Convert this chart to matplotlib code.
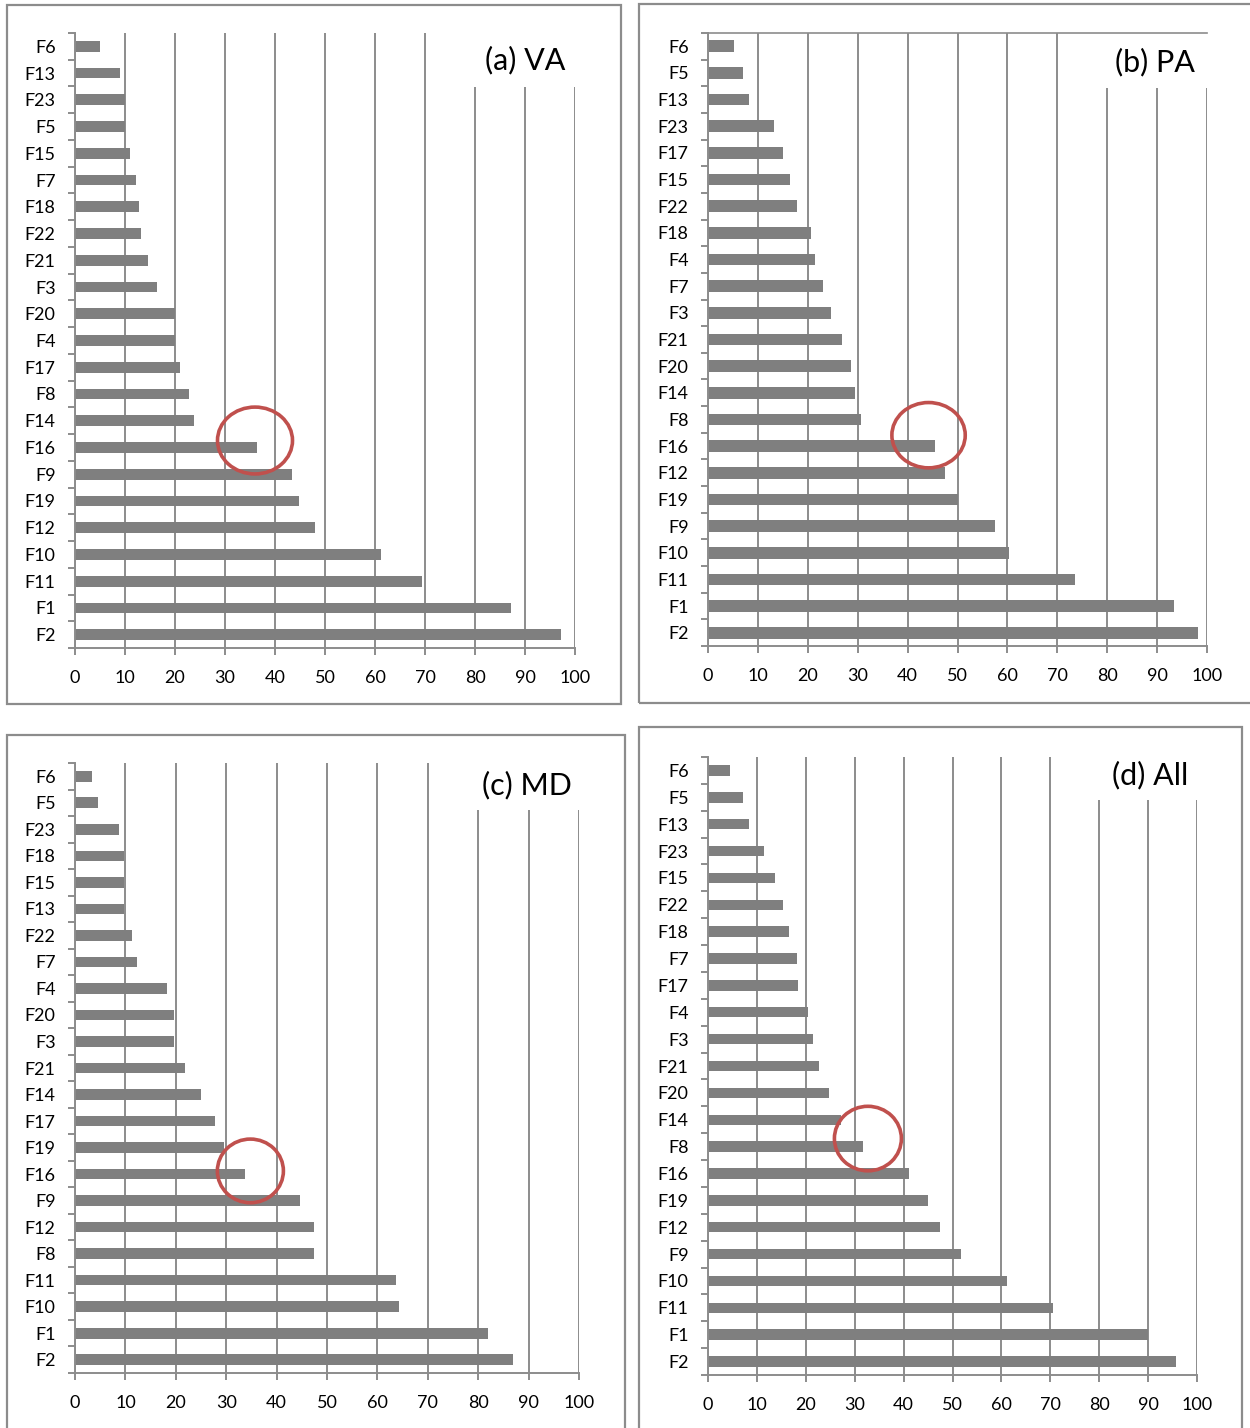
"""
Feature ranking bars for four panels (VA, PA, MD, All), with the
feature of interest circled in red.
"""

import numpy as np
import matplotlib.pyplot as plt
from matplotlib.patches import Ellipse, Rectangle

plt.rcParams['font.family'] = ['Lato', 'DejaVu Sans']

# top-to-bottom order as shown in each panel
va_labels = ["F6", "F13", "F23", "F5", "F15", "F7", "F18", "F22", "F21", "F3", "F20", "F4",
             "F17", "F8", "F14", "F16", "F9", "F19", "F12", "F10", "F11", "F1", "F2"]
va_values = [4.9, 8.9, 10.0, 10.0, 11.0, 12.1, 12.8, 13.2, 14.6, 16.4, 20.0, 20.0,
             21.0, 22.8, 23.8, 36.3, 43.3, 44.8, 48.0, 61.2, 69.4, 87.2, 97.1]

pa_labels = ["F6", "F5", "F13", "F23", "F17", "F15", "F22", "F18", "F4", "F7", "F3", "F21",
             "F20", "F14", "F8", "F16", "F12", "F19", "F9", "F10", "F11", "F1", "F2"]
pa_values = [5.2, 7.1, 8.2, 13.2, 15.0, 16.4, 17.8, 20.7, 21.5, 23.0, 24.7, 26.8,
             28.6, 29.5, 30.6, 45.4, 47.5, 50.0, 57.6, 60.4, 73.5, 93.4, 98.2]

md_labels = ["F6", "F5", "F23", "F18", "F15", "F13", "F22", "F7", "F4", "F20", "F3", "F21",
             "F14", "F17", "F19", "F16", "F9", "F12", "F8", "F11", "F10", "F1", "F2"]
md_values = [3.3, 4.6, 8.7, 9.7, 9.7, 9.7, 11.4, 12.4, 18.3, 19.6, 19.6, 21.9,
             25.0, 27.8, 29.6, 33.7, 44.6, 47.4, 47.4, 63.7, 64.2, 81.9, 86.9]

all_labels = ["F6", "F5", "F13", "F23", "F15", "F22", "F18", "F7", "F17", "F4", "F3", "F21",
              "F20", "F14", "F8", "F16", "F19", "F12", "F9", "F10", "F11", "F1", "F2"]
all_values = [4.6, 7.1, 8.4, 11.5, 13.7, 15.4, 16.6, 18.2, 18.5, 20.4, 21.5, 22.8,
              24.8, 27.3, 31.7, 41.1, 45.0, 47.5, 51.7, 61.1, 70.6, 90.0, 95.8]

titles = ["(a) VA", "(b) PA", "(c) MD", "(d) All"]
highlight = ["F16", "F16", "F16", "F8"]

x_ticks = np.arange(0, 101, 10)

bar_color = '#7f7f7f'
line_color = '#8c8c8c'
circle_color = '#c0504d'

fig = plt.figure(figsize=(12.5, 14.28), dpi=100)

# axes rectangles [left, bottom, width, height] in figure fractions
axes_pos = [
    [0.0600, 0.5462, 0.4000, 0.4307],
    [0.5664, 0.5476, 0.3992, 0.4293],
    [0.0600, 0.0385, 0.4032, 0.4272],
    [0.5664, 0.0371, 0.3912, 0.4328],
]
# outer frames around each panel
frame_pos = [
    [0.0056, 0.5070, 0.4912, 0.4895],
    [0.5112, 0.5077, 0.5000, 0.4895],
    [0.0056, -0.010, 0.4944, 0.4953],
    [0.5112, -0.010, 0.4824, 0.5009],
]
# title text position (axes fraction) and white box bottom (in rows)
title_xy = [(0.900, 0.956), (0.896, 0.953), (0.897, 0.964), (0.904, 0.971)]
box_bottom = [1.52, 1.56, 1.27, 1.10]
box_left = [79.0, 78.5, 78.5, 78.0]
# circle: x centre, width, row offset, height (rows)
circles = [(36.0, 15.0, -0.26, 2.5), (44.2, 14.7, -0.41, 2.45),
           (34.8, 13.1, -0.12, 2.4), (32.7, 13.7, -0.30, 2.4)]
bar_height = [0.40, 0.44, 0.40, 0.39]

panels = [(va_labels, va_values), (pa_labels, pa_values),
          (md_labels, md_values), (all_labels, all_values)]

for i, (labels, values) in enumerate(panels):
    fr = frame_pos[i]
    fig.patches.append(Rectangle((fr[0], fr[1]), fr[2], fr[3], transform=fig.transFigure,
                                 fill=False, edgecolor=line_color, linewidth=1.6))

    ax = fig.add_axes(axes_pos[i])
    n = len(labels)
    y = np.arange(n)
    ax.barh(y, values, height=bar_height[i], color=bar_color, zorder=2)

    ax.set_xlim(0, 100)
    ax.set_ylim(n - 0.5, -0.5)
    ax.set_xticks(x_ticks)
    ax.set_yticks(y)
    ax.set_yticklabels(labels)
    ax.set_yticks(np.arange(n + 1) - 0.5, minor=True)

    ax.grid(axis='x', color=line_color, linewidth=1.4)
    ax.set_axisbelow(True)

    for side in ['right', 'top']:
        ax.spines[side].set_visible(False)
    if i == 1:
        ax.spines['top'].set_visible(True)
        ax.spines['top'].set_color(line_color)
        ax.spines['top'].set_linewidth(1.2)
    for side in ['left', 'bottom']:
        ax.spines[side].set_color(line_color)
        ax.spines[side].set_linewidth(1.4)

    ax.tick_params(axis='x', which='major', length=5, width=1.4, color=line_color,
                   pad=11, labelsize=13)
    ax.tick_params(axis='y', which='major', length=0, pad=14, labelsize=13)
    ax.tick_params(axis='y', which='minor', length=5, width=1.4, color=line_color)

    # white box behind title hiding the gridlines
    ax.add_patch(Rectangle((box_left[i], -0.5), 101 - box_left[i], box_bottom[i] + 0.5,
                           facecolor='white', edgecolor='none', zorder=1.5, clip_on=False))
    ax.text(title_xy[i][0], title_xy[i][1], titles[i], transform=ax.transAxes,
            ha='center', va='center', fontsize=22, zorder=3)

    cx, cw, dy, ch = circles[i]
    row = labels.index(highlight[i])
    ax.add_patch(Ellipse((cx, row + dy), cw, ch, fill=False, edgecolor=circle_color,
                         linewidth=2.6, zorder=4, clip_on=False))

fig.savefig('out.png', dpi=100)
